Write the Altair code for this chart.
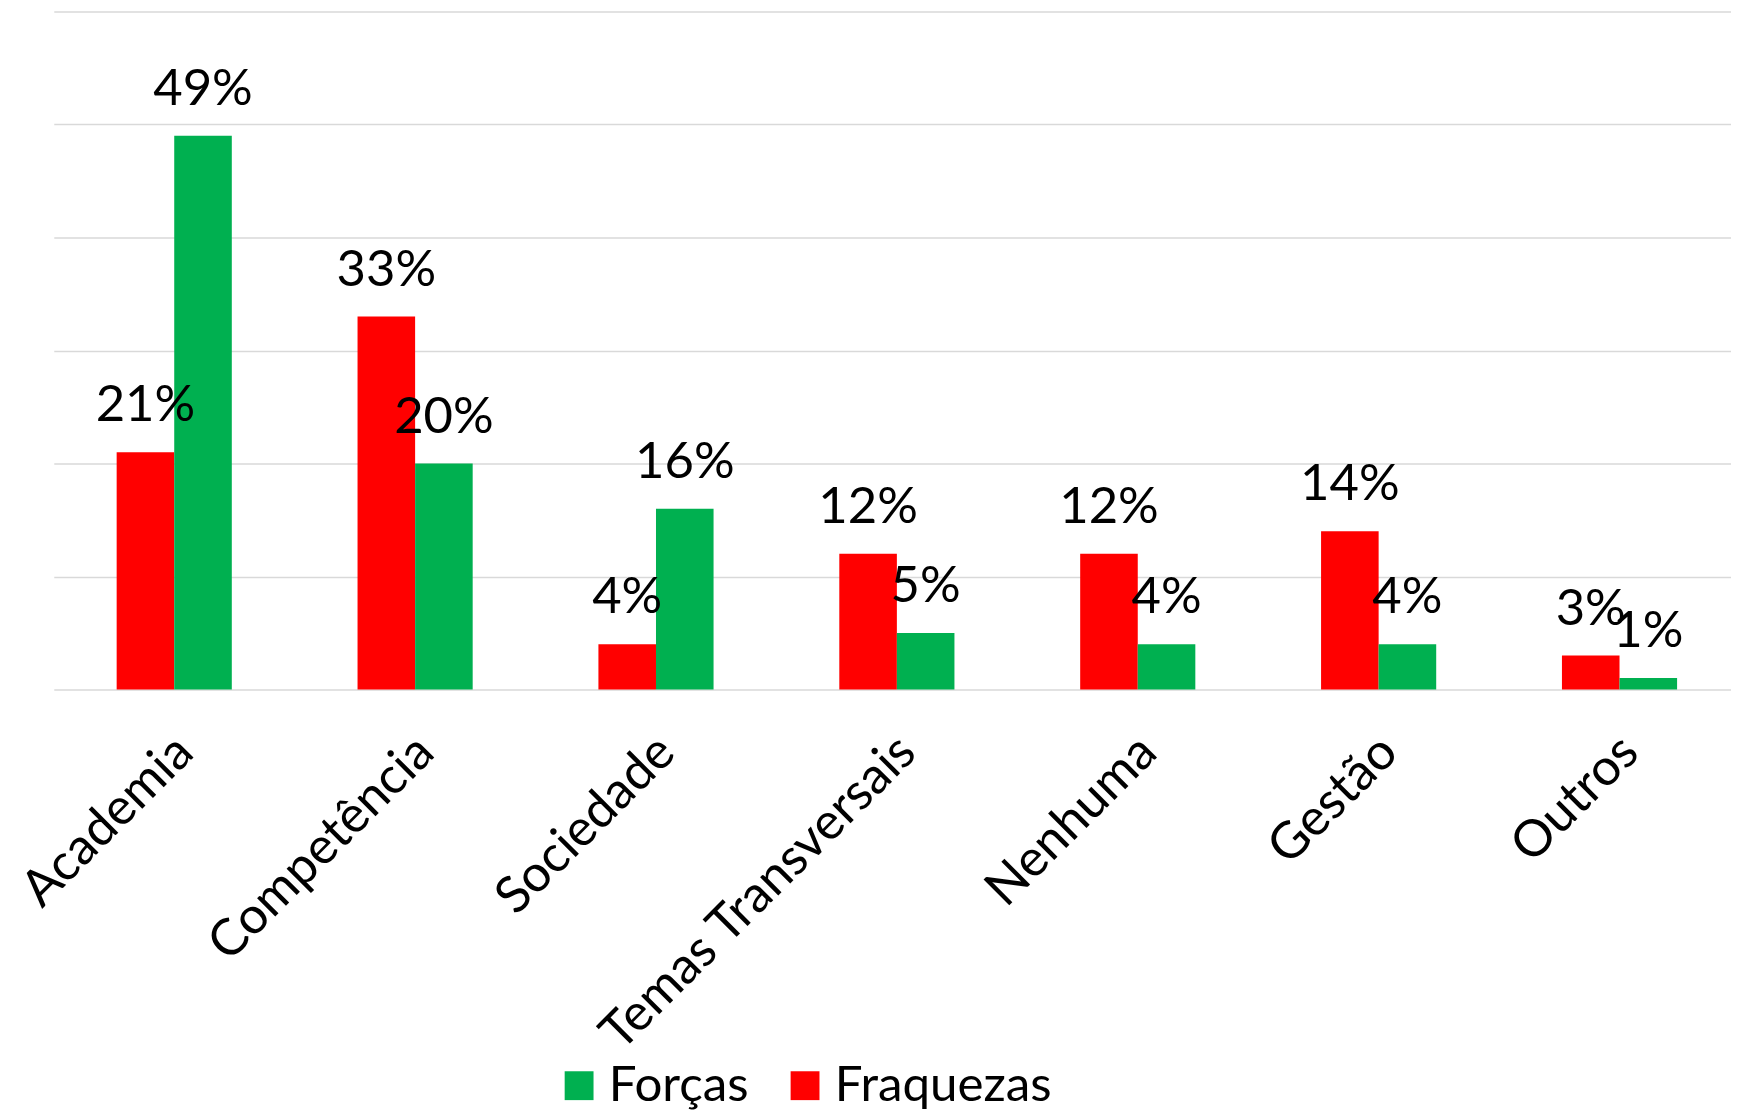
import altair as alt
import pandas as pd

categorias = ["Academia", "Competência", "Sociedade", "Temas Transversais", "Nenhuma", "Gestão", "Outros"]
fraquezas = [21, 33, 4, 12, 12, 14, 3]
forcas = [49, 20, 16, 5, 4, 4, 1]
series = ["Forças", "Fraquezas"]
cores = ["#00B050", "#FF0000"]
y_ticks = [0, 10, 20, 30, 40, 50, 60]

rows = []
for c, f, g in zip(categorias, fraquezas, forcas):
    rows.append({"categoria": c, "serie": "Fraquezas", "valor": f, "rotulo": f"{f}%"})
    rows.append({"categoria": c, "serie": "Forças", "valor": g, "rotulo": f"{g}%"})
df = pd.DataFrame(rows)

FONT = "Lato"

x_scale = alt.Scale(paddingInner=0.522, paddingOuter=0.261, range=[0, 1694])

x_enc = alt.X(
    "categoria:N",
    sort=categorias,
    scale=x_scale,
    axis=alt.Axis(
        title=None,
        labelAngle=-45,
        labelAlign="right",
        labelBaseline="middle",
        labelFont=FONT,
        labelFontSize=51,
        labelColor="#000000",
        labelPadding=55,
        labelOffset=11,
        labelLimit=700,
        ticks=False,
        tickSize=0,
        domain=False,
        grid=False,
    ),
)
xoff = alt.XOffset("serie:N", sort=["Fraquezas", "Forças"])
y_enc = alt.Y(
    "valor:Q",
    scale=alt.Scale(domain=[0, 60], nice=False),
    axis=alt.Axis(
        title=None,
        values=y_ticks,
        labels=False,
        ticks=False,
        domain=False,
        grid=True,
        gridColor="#D9D9D9",
        gridWidth=1.5,
    ),
)

bars = alt.Chart(df).mark_bar(stroke=None).encode(
    x=x_enc,
    xOffset=xoff,
    y=y_enc,
    color=alt.Color(
        "serie:N",
        scale=alt.Scale(domain=series, range=cores),
        legend=alt.Legend(
            title=None,
            orient="none",
            direction="horizontal",
            legendX=503,
            legendY=1054,
            symbolType="square",
            symbolSize=841,
            symbolStrokeWidth=0,
            symbolOpacity=1,
            labelFont=FONT,
            labelFontSize=49.5,
            labelColor="#000000",
            labelOffset=5,
            columnPadding=31,
            labelLimit=600,
            padding=0,
        ),
    ),
)

labels = alt.Chart(df).mark_text(
    font=FONT, fontSize=51, color="#000000", baseline="alphabetic", align="center", dy=-31
).encode(
    x=alt.X("categoria:N", sort=categorias),
    xOffset=xoff,
    y=alt.Y("valor:Q"),
    text="rotulo:N",
)

chart = (
    alt.layer(bars, labels)
    .properties(
        width=1685,
        height=681,
        autosize=alt.AutoSizeParams(type="none"),
        padding={"left": 46, "top": 1, "right": 0, "bottom": 424},
    )
    .configure_view(strokeWidth=0)
)

chart.save("out.html", embed_options={"renderer": "svg", "actions": False})
